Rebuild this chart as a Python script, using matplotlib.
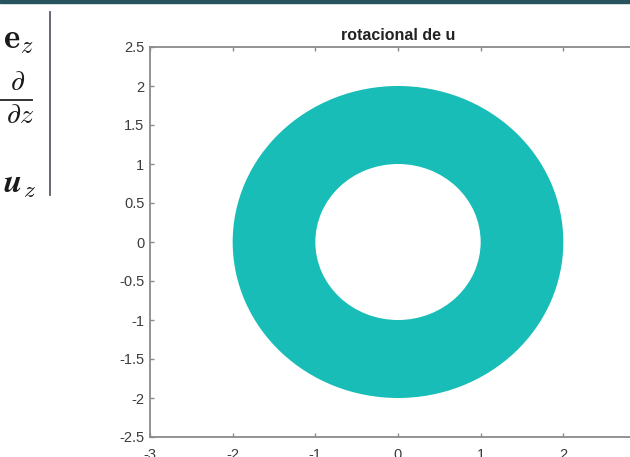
import matplotlib.pyplot as plt
from matplotlib.patches import Wedge, Rectangle

plt.rcParams['font.family'] = ['Liberation Sans', 'DejaVu Sans']
plt.rcParams['mathtext.fontset'] = 'cm'

# annulus between the two radii, centred at the origin
center = (0.0, 0.0)
inner_radius = 1.0
outer_radius = 2.0

x_ticks = [-3, -2, -1, 0, 1, 2, 3]
y_ticks = [-2.5, -2, -1.5, -1, -0.5, 0, 0.5, 1, 1.5, 2, 2.5]

W, H = 630, 457
fig = plt.figure(figsize=(W / 100, H / 100), dpi=100)
fig.patch.set_facecolor('white')

# dark band along the top edge of the slide
fig.patches.append(Rectangle((0, 1 - 3 / H), 1, 3 / H, transform=fig.transFigure,
                             color='#27535e', zorder=5))

# piece of the determinant on the left
def px(x, y):
    return x / W, 1 - y / H

ink = '#1a1a1a'
fig.text(*px(34, 40), r'$\mathbf{e}_z$', fontsize=25, ha='right', va='center', color=ink)
fig.text(*px(18, 83), r'$\partial$', fontsize=20, ha='center', va='center', color=ink)
fig.add_artist(plt.Line2D([0, 32 / W], [1 - 100 / H] * 2, transform=fig.transFigure,
                          color='#333333', lw=1.4))
fig.text(*px(34, 116), r'$\partial z$', fontsize=20, ha='right', va='center', color=ink)
fig.text(*px(36, 184), r'$\mathbfit{u}_z$', fontsize=24, ha='right', va='center', color=ink)
fig.add_artist(plt.Line2D([50 / W] * 2, [1 - 12 / H, 1 - 195 / H], transform=fig.transFigure,
                          color='#5a5a6a', lw=1.3))

# MATLAB style axes, right edge runs off the slide
ax = fig.add_axes([150 / W, 20 / H, 496 / W, 390 / H])
ax.add_patch(Wedge(center, outer_radius, 0, 360, width=outer_radius - inner_radius,
                   facecolor='#17bdb6', edgecolor='none'))
ax.set_xlim(-3, 3)
ax.set_ylim(-2.5, 2.5)
ax.set_xticks(x_ticks)
ax.set_yticks(y_ticks)
# the label at x = 3 falls past the slide edge
ax.set_xticklabels([str(t) if t < 3 else '' for t in x_ticks])
ax.set_yticklabels(['%g' % t for t in y_ticks])
ax.set_title('rotacional de u', fontsize=11.5, fontweight='bold', color='#222222', pad=5)

for s in ax.spines.values():
    s.set_color('#8a8a8a')
    s.set_linewidth(1.3)
ax.tick_params(direction='in', length=3, width=1, color='#8a8a8a', labelsize=10.5,
               labelcolor='#3c3c3c', top=True, right=True)
ax.tick_params(axis='x', pad=8)
ax.tick_params(axis='y', pad=4)

fig.savefig('out.png', dpi=100)
